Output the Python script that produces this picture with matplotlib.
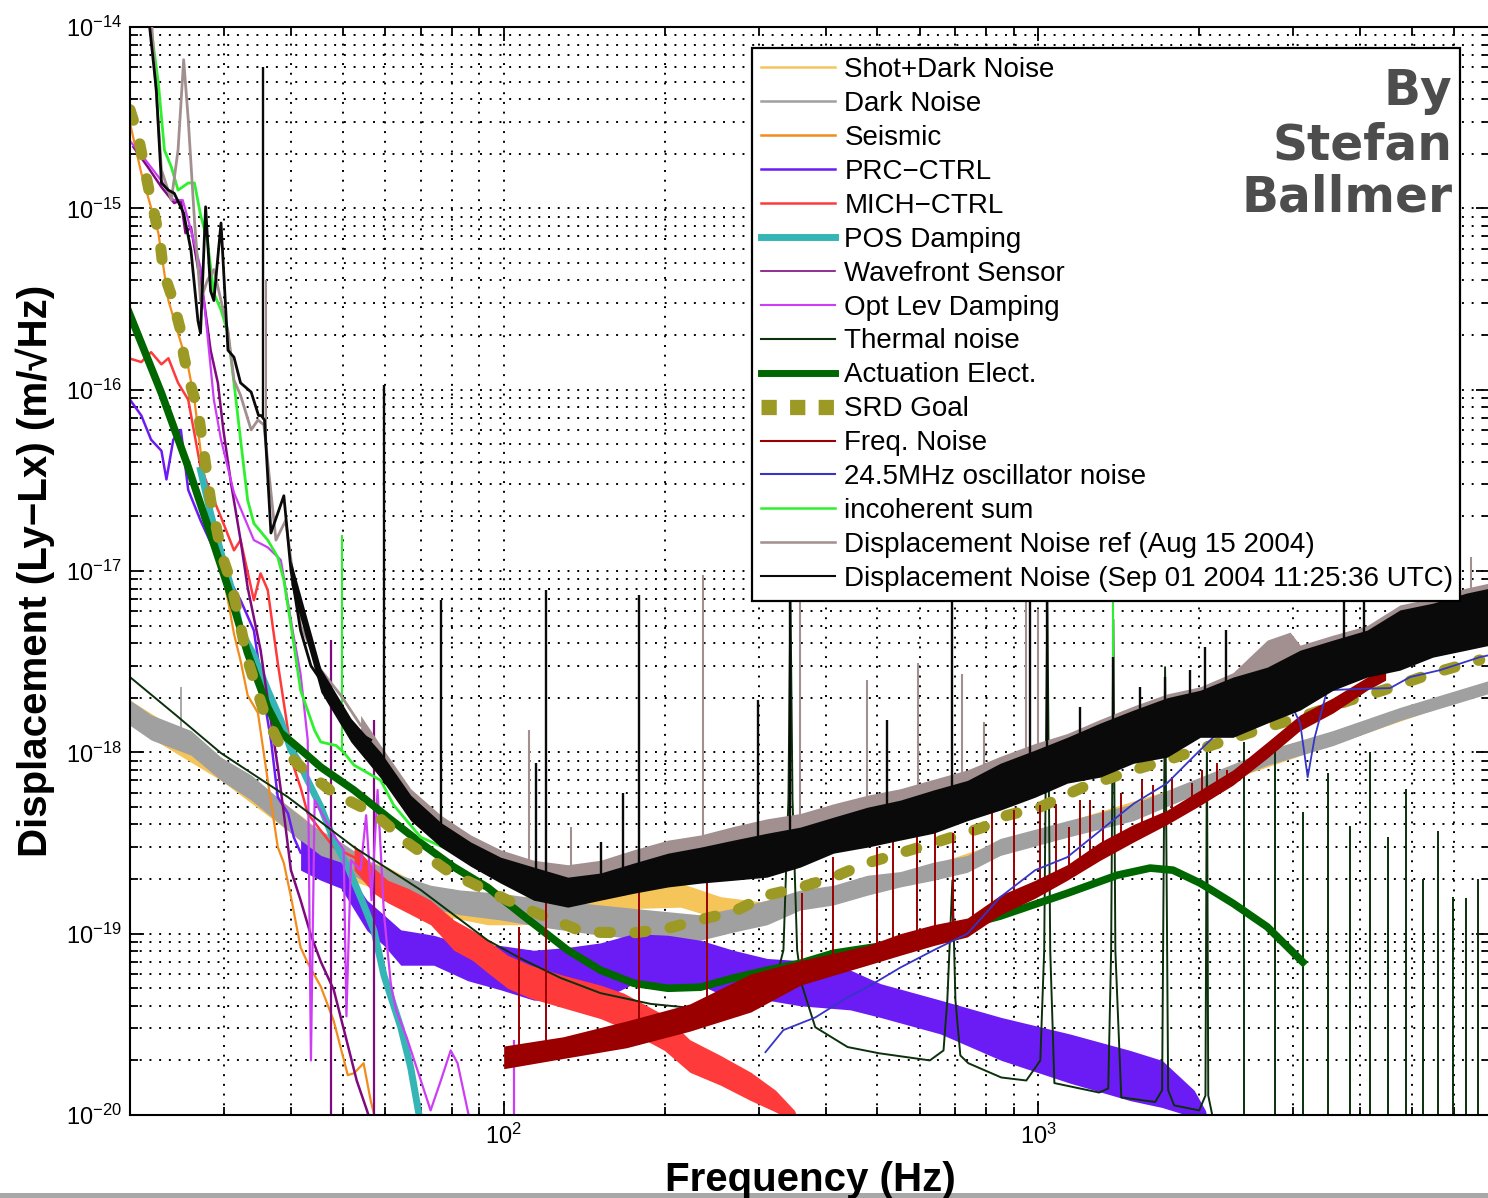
#!/usr/bin/env python3
import numpy as np
import matplotlib
matplotlib.use("Agg")
import matplotlib.pyplot as plt
from matplotlib.lines import Line2D
from matplotlib.patches import Rectangle
from matplotlib.ticker import NullFormatter

plt.rcParams['font.family'] = ['Liberation Sans', 'DejaVu Sans']
plt.rcParams['mathtext.fontset'] = 'custom'
plt.rcParams['mathtext.rm'] = 'Liberation Sans'
plt.rcParams['mathtext.it'] = 'Liberation Sans:italic'
plt.rcParams['mathtext.bf'] = 'Liberation Sans:bold'
plt.rcParams['axes.linewidth'] = 1.5

# ---- data (frequency in Hz, displacement in m/rtHz) ----
labels = ["Shot+Dark Noise", "Dark Noise", "Seismic", "PRC\u2212CTRL", "MICH\u2212CTRL",
          "POS Damping", "Wavefront Sensor", "Opt Lev Damping", "Thermal noise",
          "Actuation Elect.", "SRD Goal", "Freq. Noise", "24.5MHz oscillator noise",
          "incoherent sum", "Displacement Noise ref (Aug 15 2004)",
          "Displacement Noise (Sep 01 2004 11:25:36 UTC)"]

shot_f = [20.0, 29.6, 41.7, 51.8, 60.7, 70.0, 80.7, 93.3, 107.6, 127.8, 151.8, 180.3, 214.2, 254.5, 302.3, 359, 552, 849, 2009, 6998]
shot_hi = [1.94e-18, 9.4e-19, 4.5e-19, 2.7e-19, 2.33e-19, 1.85e-19, 1.67e-19, 1.6e-19, 1.6e-19, 1.67e-19, 1.78e-19, 1.9e-19, 1.9e-19, 1.6e-19, 1.5e-19, 1.7e-19, 2.1e-19, 3.2e-19, 7.0e-19, 2.4e-18]
shot_lo = [1.41e-18, 7.0e-19, 3.28e-19, 1.97e-19, 1.67e-19, 1.35e-19, 1.22e-19, 1.12e-19, 1.12e-19, 1.16e-19, 1.27e-19, 1.38e-19, 1.4e-19, 1.2e-19, 1.15e-19, 1.4e-19, 1.85e-19, 2.8e-19, 6.2e-19, 2.2e-18]

dark_f = [20.0, 21.9, 26.0, 29.6, 33.7, 38.3, 43.6, 49.6, 56.4, 64.2, 73.0, 83.1, 98.7, 122.4, 151.8, 188.3, 233.5, 269, 311, 359, 414, 479, 552, 637, 737, 849, 1133, 1507, 2009, 2682, 3561, 4751, 6998]
dark_hi = [1.94e-18, 1.61e-18, 1.32e-18, 9.4e-19, 7.5e-19, 5.45e-19, 4.0e-19, 3.2e-19, 2.48e-19, 2.1e-19, 1.85e-19, 1.74e-19, 1.67e-19, 1.53e-19, 1.44e-19, 1.35e-19, 1.27e-19, 1.38e-19, 1.53e-19, 1.74e-19, 1.85e-19, 2.1e-19, 2.2e-19, 2.48e-19, 2.7e-19, 3.35e-19, 4.2e-19, 5.2e-19, 7.3e-19, 1.03e-18, 1.32e-18, 1.77e-18, 2.5e-18]
dark_lo = [1.41e-18, 1.17e-18, 9.65e-19, 7.0e-19, 5.45e-19, 4.0e-19, 2.9e-19, 2.3e-19, 1.85e-19, 1.57e-19, 1.38e-19, 1.27e-19, 1.19e-19, 1.07e-19, 9.8e-20, 9.2e-20, 9.2e-20, 1.02e-19, 1.12e-19, 1.35e-19, 1.44e-19, 1.63e-19, 1.81e-19, 1.97e-19, 2.18e-19, 2.7e-19, 3.4e-19, 4.2e-19, 6.0e-19, 8.5e-19, 1.09e-18, 1.5e-18, 2.12e-18]
dark_sp_f = [24.9]
dark_sp_v = [2.29e-18]

seis_f = [20.0, 21.0, 22.6, 23.6, 24.6, 25.7, 26.4, 27.1, 28.7, 30.5, 31.3, 32.2, 33.2, 34.7, 36.2, 37.8, 38.8, 40.0, 41.7, 43.0, 45.5, 48.1, 51.1, 52.5, 54.7, 56.4, 57.9]
seis_v = [2.95e-15, 1.56e-15, 7.3e-16, 3.1e-16, 2.05e-16, 1.33e-16, 8.8e-17, 4.6e-17, 1.62e-17, 6.9e-18, 4.5e-18, 3.2e-18, 2.06e-18, 1.65e-18, 7.0e-19, 3.0e-19, 2.45e-19, 1.6e-19, 8.4e-20, 6.9e-20, 5.1e-20, 3.3e-20, 1.66e-20, 1.7e-20, 1.93e-20, 1.2e-20, 8.8e-21]

prc_f = [20.0, 21.0, 21.9, 22.9, 23.4, 24.1, 24.9, 25.7, 27.1, 29.6, 32.2, 34.1, 35.6, 36.7, 37.8, 39.5, 40.5, 41.7]
prc_v = [8.8e-17, 7.2e-17, 5.3e-17, 4.6e-17, 3.2e-17, 5.3e-17, 6.0e-17, 2.8e-17, 1.9e-17, 1.08e-17, 6.9e-18, 4.7e-18, 2.0e-18, 1.17e-18, 5.66e-19, 4.6e-19, 3.4e-19, 2.8e-19]
prcb_f = [41.7, 45.5, 49.6, 55.5, 59.7, 64.2, 74.0, 85.7, 98.7, 113.8, 131.8, 151.8, 175, 203, 233.5, 269, 311, 359, 445, 507, 656, 853, 1145, 1486, 1705, 1957, 2055, 2097]
prcb_hi = [3.28e-19, 2.7e-19, 2.48e-19, 1.53e-19, 1.27e-19, 1.05e-19, 9.8e-20, 8.6e-20, 8.6e-20, 8.1e-20, 8.4e-20, 8.9e-20, 1.0e-19, 9.8e-20, 9.2e-20, 8.1e-20, 7.3e-20, 7.1e-20, 6.3e-20, 5.3e-20, 4.3e-20, 3.45e-20, 2.8e-20, 2.27e-20, 2.0e-20, 1.37e-20, 1.06e-20, 8.2e-21]
prcb_lo = [2.24e-19, 1.97e-19, 1.78e-19, 1.04e-19, 8.6e-20, 6.7e-20, 6.7e-20, 5.5e-20, 4.9e-20, 4.3e-20, 4.3e-20, 4.3e-20, 5.3e-20, 5.2e-20, 5.2e-20, 4.3e-20, 4.3e-20, 4.0e-20, 3.8e-20, 3.45e-20, 2.8e-20, 2.0e-20, 1.5e-20, 1.2e-20, 1.1e-20, 9.7e-21, 9.4e-21, 8.2e-21]

mich_f = [19.9, 21.0, 21.9, 22.9, 23.6, 24.6, 25.7, 27.1, 28.7, 29.6, 31.3, 32.2, 34.1, 35.1, 36.2, 37.8, 39.5, 40.5, 41.7, 43.0, 45.5, 48.1, 52.5]
mich_v = [1.49e-16, 1.42e-16, 1.61e-16, 1.38e-16, 1.49e-16, 1.09e-16, 8.8e-17, 3.74e-17, 2.46e-17, 1.98e-17, 1.3e-17, 1.48e-17, 6.9e-18, 9.7e-18, 7.85e-18, 3.1e-18, 1.32e-18, 8.3e-19, 6.4e-19, 4.6e-19, 3.7e-19, 3.0e-19, 2.64e-19]
michb_f = [52.5, 57.2, 60.7, 66.2, 73.0, 80.7, 87.6, 93.3, 101.7, 112.3, 129.2, 151.8, 167.7, 199.9, 223, 254.5, 290, 322.5, 350, 359]
michb_hi = [3.1e-19, 2.3e-19, 1.97e-19, 1.78e-19, 1.53e-19, 1.19e-19, 1.04e-19, 9.2e-20, 7.6e-20, 6.7e-20, 5.9e-20, 5.2e-20, 4.7e-20, 3.55e-20, 2.6e-20, 2.13e-20, 1.72e-20, 1.37e-20, 1.06e-20, 8.8e-21]
michb_lo = [2.24e-19, 1.67e-19, 1.48e-19, 1.3e-19, 1.12e-19, 8.1e-20, 7.1e-20, 6.1e-20, 5.0e-20, 4.4e-20, 3.9e-20, 3.4e-20, 3.0e-20, 2.27e-20, 1.72e-20, 1.46e-20, 1.2e-20, 1.04e-20, 9.1e-21, 8.8e-21]

pos_f = [27.1, 28.3, 29.6, 31.3, 32.2, 34.1, 36.2, 38.3, 40.0, 41.2, 43.0, 45.5, 48.1, 51.1, 54.0, 57.2, 59.7, 64.2, 67.0, 70.0]
pos_v = [3.6e-17, 2.08e-17, 1.26e-17, 7.2e-18, 4.7e-18, 3.44e-18, 2.2e-18, 1.5e-18, 1.03e-18, 9.1e-19, 7.0e-19, 5.0e-19, 3.28e-19, 2.33e-19, 1.59e-19, 1.04e-19, 5.9e-20, 3.05e-20, 1.83e-20, 8.8e-21]

wfs_f = [20.3, 21.6, 22.9, 24.2, 24.9, 25.4, 26.0, 26.8, 27.5, 28.3, 29.2, 29.9, 30.9, 32.2, 33.2, 35.1, 36.2, 37.8, 38.8, 40.0, 41.7, 43.6, 45.5, 48.1, 51.1, 53.1, 55.5, 56.6]
wfs_v = [2.18e-15, 1.69e-15, 1.31e-15, 1.07e-15, 1.11e-15, 7.3e-16, 7.9e-16, 4.7e-16, 3.1e-16, 1.65e-16, 1.09e-16, 6.0e-17, 3.05e-17, 1.48e-17, 8.1e-18, 3.66e-18, 1.94e-18, 8.3e-19, 4.6e-19, 2.24e-19, 1.53e-19, 9.8e-20, 7.0e-20, 4.9e-20, 2.43e-20, 1.55e-20, 1.06e-20, 8.8e-21]
wfs_sp_f = [47.5, 57.2]
wfs_sp_v = [4.16e-18, 1.5e-18]

olev_f = [20.0, 21.4, 22.9, 24.1, 25.1, 26.0, 27.1, 27.9, 28.7, 29.6, 31.3, 34.1, 36.2, 38.3, 40.4, 41.7, 43.0, 43.6, 44.3, 45.5, 48.1, 50.2, 50.8, 51.8, 54.0, 55.3, 56.6, 58.1, 59.7, 61.5, 62.9, 65.8, 70.0, 73.0, 76.3, 79.6, 82.0, 86.8]
olev_v = [2.35e-15, 1.84e-15, 1.42e-15, 1.11e-15, 1.11e-15, 7.6e-16, 4.7e-16, 2.05e-16, 8.8e-17, 5.3e-17, 2.7e-17, 1.48e-17, 1.35e-17, 1.15e-17, 4.5e-18, 2.7e-18, 1.17e-18, 2.0e-20, 5.45e-19, 4.7e-19, 3.5e-19, 2.9e-19, 3.5e-20, 2.54e-19, 2.24e-19, 4.5e-19, 1.53e-19, 6.2e-19, 1.3e-19, 5.3e-20, 3.8e-20, 2.7e-20, 1.55e-20, 1.06e-20, 1.55e-20, 2.27e-20, 1.93e-20, 8.8e-21]
olev_sp_f = [104.4]
olev_sp_v = [2.6e-20]

therm_f = [20.0, 24.4, 29.6, 39.5, 52.5, 70.0, 93.3, 107.6, 127.8, 151.8, 188.3, 223, 254.5, 274.5, 290, 308.8, 322.5, 333.7, 341, 343.9, 347, 354, 361.4, 382.7, 440, 504, 627, 665, 676, 691, 700, 715, 740, 853, 950, 1009, 1026, 1040, 1053, 1072, 1300, 1352, 1369, 1382, 1394, 1430, 1655, 1705, 1727, 1750, 1796, 2000, 2055, 2068, 2080, 2135]
therm_v = [2.6e-18, 1.6e-18, 9.9e-19, 5.66e-19, 3.0e-19, 1.74e-19, 9.2e-20, 7.3e-20, 5.7e-20, 4.7e-20, 4.1e-20, 3.9e-20, 3.6e-20, 3.55e-20, 3.8e-20, 4.3e-20, 5.5e-20, 8.1e-20, 5.5e-19, 7.4e-18, 5.5e-19, 8.1e-20, 5.2e-20, 3.05e-20, 2.37e-20, 2.19e-20, 2.0e-20, 2.27e-20, 4.3e-20, 1.97e-19, 4.3e-20, 2.13e-20, 1.93e-20, 1.61e-20, 1.55e-20, 2.0e-20, 8.1e-20, 6.9e-18, 8.1e-20, 1.5e-20, 1.33e-20, 1.4e-20, 8.1e-20, 5.4e-18, 8.1e-20, 1.25e-20, 1.18e-20, 1.37e-20, 2.95e-18, 1.37e-20, 1.13e-20, 1.06e-20, 1.28e-20, 1.14e-18, 1.28e-20, 8.8e-21]
# violin-mode harmonics rising out of the floor
therm_sp_f = [2430, 2774, 3130, 3485, 3831, 4176, 4512, 4876, 5245, 5596, 5968, 6313, 6646]
therm_sp_v = [1.14e-18, 1.03e-18, 4.7e-19, 7.7e-19, 3.9e-19, 1.0e-18, 3.4e-19, 6.3e-19, 2.0e-19, 3.7e-19, 1.6e-19, 1.58e-19, 2.0e-19]

act_f = [19.9, 22.9, 25.7, 28.0, 30.5, 33.2, 36.2, 38.3, 41.8, 45.5, 52.5, 60.7, 70.0, 80.7, 93.3, 107.6, 131.8, 151.8, 175, 203, 233.5, 269, 311, 359, 414, 552, 849, 1133, 1405, 1619, 1787, 2009, 2314, 2682, 3126]
act_v = [2.68e-16, 9.57e-17, 3.74e-17, 1.75e-17, 8.15e-18, 3.52e-18, 1.77e-18, 1.28e-18, 1.03e-18, 8.28e-19, 6.18e-19, 4.39e-19, 3.16e-19, 2.33e-19, 1.80e-19, 1.29e-19, 8.10e-20, 6.29e-20, 5.33e-20, 5.00e-20, 5.07e-20, 5.69e-20, 6.29e-20, 6.87e-20, 7.80e-20, 8.87e-20, 1.25e-19, 1.67e-19, 2.10e-19, 2.30e-19, 2.24e-19, 1.90e-19, 1.47e-19, 1.09e-19, 6.97e-20]

srd_f = [20.0, 20.7, 21.2, 21.7, 22.3, 22.8, 23.1, 24.0, 24.8, 25.2, 25.8, 26.8, 28.3, 29.8, 30.9, 31.8, 33.2, 35.6, 38.3, 41.8, 48.1, 57.2, 66.2, 79.6, 101.7, 113.8, 141, 175, 203, 224, 269, 311, 359, 414, 479, 552, 637, 789, 849, 1009, 1214, 1507, 1742, 2161, 2682, 3090, 3833, 4418, 5474, 6698]
srd_v = [3.5e-15, 2.54e-15, 1.78e-15, 1.26e-15, 8.84e-16, 6.28e-16, 4.45e-16, 3.2e-16, 2.19e-16, 1.55e-16, 1.13e-16, 7.71e-17, 2.46e-17, 1.19e-17, 8.69e-18, 5.86e-18, 3.23e-18, 1.67e-18, 1.07e-18, 8.28e-19, 5.95e-19, 4.62e-19, 3.16e-19, 2.16e-19, 1.53e-19, 1.32e-19, 1.02e-19, 1.01e-19, 1.07e-19, 1.16e-19, 1.32e-19, 1.63e-19, 1.80e-19, 2.05e-19, 2.45e-19, 2.78e-19, 3.16e-19, 3.86e-19, 4.39e-19, 4.99e-19, 6.43e-19, 7.98e-19, 9.06e-19, 1.12e-18, 1.38e-18, 1.56e-18, 1.94e-18, 2.20e-18, 2.73e-18, 3.23e-18]

freq_f = [100, 129.2, 169.8, 223, 290, 359, 414, 479, 552, 637, 737, 849, 987, 1133, 1306, 1507, 1742, 2009, 2314, 2682, 3090, 3561, 4123, 4465]
freq_hi = [2.4e-20, 2.7e-20, 3.3e-20, 4.1e-20, 6.0e-20, 7.1e-20, 7.8e-20, 8.6e-20, 1.0e-19, 1.12e-19, 1.22e-19, 1.63e-19, 1.97e-19, 2.4e-19, 3.2e-19, 4.0e-19, 4.8e-19, 6.2e-19, 8.0e-19, 1.14e-18, 1.61e-18, 2.0e-18, 2.6e-18, 2.9e-18]
freq_lo = [1.8e-20, 2.05e-20, 2.35e-20, 2.9e-20, 3.7e-20, 5.2e-20, 5.9e-20, 6.7e-20, 7.6e-20, 8.6e-20, 9.6e-20, 1.27e-19, 1.57e-19, 1.97e-19, 2.54e-19, 3.2e-19, 4.0e-19, 5.1e-19, 6.6e-19, 9.3e-19, 1.32e-18, 1.65e-18, 2.2e-18, 2.5e-18]
freq_sp_f = [106.7, 119.8, 178.8, 240.6, 361, 414, 500, 535, 594, 642, 694, 755, 820, 900, 1009, 1078, 1143, 1198, 1251, 1319, 1430, 1566, 1636, 1781, 1941, 2029, 2161, 2259]
freq_sp_v = [1.09e-19, 1.97e-19, 2.16e-19, 2.16e-19, 1.67e-19, 2.64e-19, 3.0e-19, 4.07e-19, 3.87e-19, 4.07e-19, 3.58e-19, 3.87e-19, 4.6e-19, 4.8e-19, 5.1e-19, 5.2e-19, 3.87e-19, 5.45e-19, 5.45e-19, 4.8e-19, 5.96e-19, 7.0e-19, 6.6e-19, 7.3e-19, 6.76e-19, 8.0e-19, 8.7e-19, 8.0e-19]

osc_f = [308.8, 333.7, 382.7, 440, 479, 552, 637, 737, 849, 987, 1133, 1306, 1507, 1742, 2009, 2125, 2386, 2715, 2990, 3090, 3192, 3290, 3470, 4000, 4551, 4960, 5644, 6704, 6998]
osc_v = [2.22e-20, 2.94e-20, 3.45e-20, 4.46e-20, 5.07e-20, 6.5e-20, 8.1e-20, 1.0e-19, 1.59e-19, 2.24e-19, 2.64e-19, 3.7e-19, 5.2e-19, 6.76e-19, 1.03e-18, 1.21e-18, 1.41e-18, 1.65e-18, 1.77e-18, 1.45e-18, 7.3e-19, 1.21e-18, 2.2e-18, 2.24e-18, 2.26e-18, 2.6e-18, 2.84e-18, 3.35e-18, 3.44e-18]

inc_f = [21.8, 22.6, 23.2, 23.9, 24.6, 25.7, 26.4, 27.1, 27.9, 28.7, 29.6, 30.5, 31.3, 32.2, 33.2, 34.1, 36.2, 37.8, 38.8, 40.4, 41.7, 44.3, 45.5, 48.6, 50.2, 52.5, 58.9, 62.3, 70.0, 80.7, 93.3, 107.6, 122.4, 151.8, 188.3, 233.5, 289.5, 359, 552, 849, 1306, 2009, 2959, 3090, 4751, 6998]
inc_v = [1.09e-14, 4.9e-15, 2.09e-15, 1.69e-15, 1.26e-15, 1.38e-15, 1.38e-15, 9.2e-16, 6.7e-16, 3.4e-16, 2.75e-16, 2.05e-16, 1.09e-16, 5.3e-17, 2.46e-17, 1.83e-17, 1.48e-17, 1.19e-17, 8.9e-18, 4.16e-18, 2.2e-18, 1.32e-18, 1.14e-18, 1.09e-18, 1.0e-18, 8.5e-19, 7.0e-19, 5.1e-19, 3.4e-19, 2.82e-19, 2.54e-19, 2.3e-19, 1.97e-19, 1.85e-19, 2.1e-19, 2.4e-19, 2.9e-19, 3.28e-19, 4.5e-19, 6.2e-19, 9.6e-19, 1.61e-18, 3.44e-18, 2.84e-18, 4.16e-18, 5.7e-18]
inc_sp_f = [49.8, 1382]
inc_sp_v = [1.58e-17, 7.4e-18]

ref_f = [21.9, 22.9, 23.9, 24.6, 25.2, 25.7, 26.4, 27.1, 27.9, 28.7, 29.6, 30.5, 31.3, 32.2, 33.7, 34.7, 35.6, 37.5, 39.1, 40.0, 41.7, 45.5, 49.6, 54.0]
ref_v = [1.17e-14, 1.63e-15, 1.11e-15, 2.1e-15, 6.6e-15, 3.1e-15, 8.6e-16, 3.1e-16, 4.0e-16, 4.6e-16, 3.1e-16, 2.1e-16, 1.13e-16, 9.3e-17, 6.0e-17, 6.8e-17, 6.4e-17, 1.48e-17, 1.9e-17, 1.15e-17, 5.0e-18, 2.84e-18, 2.06e-18, 1.41e-18]
refb_f = [54.0, 58.9, 67.0, 76.3, 86.8, 98.7, 113.8, 131.8, 151.8, 175, 203, 233.5, 269, 311, 359, 414, 479, 552, 637, 737, 849, 987, 1133, 1306, 1507, 1742, 2009, 2314, 2682, 2959, 3090, 3561, 4123, 4751, 5475, 6320, 6998]
refb_hi = [1.6e-18, 1.09e-18, 6.3e-19, 4.5e-19, 3.5e-19, 2.9e-19, 2.54e-19, 2.4e-19, 2.54e-19, 2.9e-19, 3.28e-19, 3.5e-19, 3.9e-19, 4.3e-19, 4.6e-19, 5.2e-19, 5.8e-19, 6.3e-19, 7.1e-19, 8.0e-19, 9.5e-19, 1.12e-18, 1.27e-18, 1.52e-18, 1.8e-18, 2.1e-18, 2.3e-18, 2.75e-18, 4.16e-18, 4.6e-18, 3.9e-18, 4.43e-18, 5.0e-18, 6.5e-18, 7.1e-18, 8.05e-18, 8.6e-18]
refb_lo = [1.2e-18, 8.0e-19, 4.7e-19, 3.28e-19, 2.6e-19, 2.1e-19, 1.74e-19, 1.63e-19, 1.74e-19, 1.97e-19, 2.1e-19, 2.4e-19, 2.9e-19, 3.1e-19, 3.28e-19, 3.5e-19, 3.7e-19, 4.2e-19, 4.5e-19, 5.1e-19, 5.8e-19, 6.6e-19, 7.5e-19, 8.5e-19, 1.03e-18, 1.17e-18, 1.41e-18, 1.61e-18, 2.2e-18, 2.5e-18, 2.06e-18, 2.34e-18, 2.84e-18, 3.2e-18, 3.66e-18, 4.16e-18, 4.43e-18]
ref_sp_f = [35.9, 111.3, 133.4, 235.5, 359, 479, 596, 721, 792, 949, 1000, 6447]
ref_sp_v = [4.0e-16, 1.32e-18, 3.87e-19, 9.5e-18, 1.15e-17, 2.5e-18, 3.1e-18, 2.7e-18, 1.47e-18, 1.15e-17, 6.1e-18, 1.19e-17]

blk_f = [21.6, 22.4, 22.9, 23.6, 24.2, 25.2, 26.0, 26.8, 27.1, 27.7, 28.3, 28.7, 29.6, 30.5, 31.3, 32.2, 33.7, 34.8, 35.2, 35.7, 36.7, 38.8, 40.0, 41.7, 43.6, 45.5, 49.0, 52.5, 56.4]
blk_v = [1.24e-14, 4.5e-15, 1.38e-15, 1.26e-15, 1.21e-15, 9.4e-16, 5.9e-16, 2.4e-16, 2.05e-16, 1.02e-15, 3.5e-16, 3.1e-16, 8.3e-16, 1.65e-16, 1.51e-16, 1.09e-16, 9.7e-17, 7.2e-17, 7.2e-17, 6.8e-17, 1.62e-17, 2.6e-17, 1.01e-17, 4.7e-18, 3.0e-18, 2.5e-18, 1.77e-18, 1.32e-18, 1.17e-18]
blkb_f = [40.0, 45.5, 51.8, 58.9, 67.0, 76.3, 86.8, 98.7, 113.8, 131.8, 151.8, 175, 203, 233.5, 269, 311, 359, 414, 479, 552, 637, 737, 849, 987, 1133, 1306, 1507, 1742, 2009, 2314, 2682, 3090, 3561, 4123, 4751, 5475, 6320, 6998]
blkb_hi = [1.15e-17, 2.9e-18, 1.54e-18, 1.0e-18, 5.8e-19, 4.1e-19, 3.2e-19, 2.64e-19, 2.33e-19, 2.05e-19, 2.16e-19, 2.45e-19, 2.78e-19, 3.0e-19, 3.28e-19, 3.58e-19, 3.87e-19, 4.39e-19, 4.98e-19, 5.45e-19, 6.2e-19, 7.0e-19, 8.7e-19, 1.03e-18, 1.21e-18, 1.45e-18, 1.71e-18, 2.0e-18, 2.2e-18, 2.6e-18, 2.95e-18, 3.66e-18, 4.16e-18, 4.72e-18, 6.1e-18, 6.65e-18, 7.55e-18, 8.05e-18]
blkb_lo = [8.4e-18, 2.15e-18, 1.14e-18, 7.2e-19, 4.2e-19, 3.0e-19, 2.35e-19, 1.9e-19, 1.53e-19, 1.4e-19, 1.53e-19, 1.67e-19, 1.81e-19, 1.9e-19, 1.97e-19, 2.05e-19, 2.33e-19, 2.78e-19, 3.0e-19, 3.28e-19, 3.58e-19, 4.2e-19, 4.8e-19, 5.66e-19, 6.76e-19, 7.3e-19, 8.7e-19, 9.4e-19, 1.21e-18, 1.21e-18, 1.45e-18, 1.71e-18, 2.2e-18, 2.6e-18, 2.84e-18, 3.35e-18, 3.66e-18, 3.9e-18]
blk_sp_f = [35.4, 59.7, 76.3, 114.8, 119.8, 151.8, 166.9, 178.8, 299.7, 343.9, 522, 691, 966, 1040, 1198, 1382, 1552, 1727, 1924, 2055, 2245, 3735, 4069]
blk_sp_v = [6.0e-15, 1.06e-16, 6.9e-18, 8.7e-19, 7.85e-18, 3.2e-19, 6.0e-19, 7.4e-18, 1.94e-18, 1.15e-17, 1.5e-18, 1.15e-17, 1.15e-17, 1.15e-17, 1.77e-18, 3.35e-18, 2.29e-18, 2.6e-18, 2.84e-18, 3.8e-18, 4.7e-18, 1.15e-17, 1.15e-17]

colors = {
    'shot': '#f5c55a', 'dark': '#a0a0a0', 'seis': '#f28c1c', 'prc': '#6b1cf5',
    'mich': '#ff3a3a', 'pos': '#35b5b5', 'wfs': '#7f0a7f', 'olev': '#cc3df5',
    'therm': '#0b300b', 'act': '#006600', 'srd': '#9c9a25', 'freq': '#9a0000',
    'osc': '#3535c8', 'inc': '#2ef02e', 'ref': '#a28f8f', 'blk': '#0a0a0a',
}


def loginterp(f, xs, ys):
    return 10 ** np.interp(np.log10(f), np.log10(xs), np.log10(ys))


def joined(line_f, line_v, band_f, band_lo):
    # low-frequency trace followed by the lower edge of the band
    keep = [i for i, f in enumerate(line_f) if f < band_f[0]]
    return [line_f[i] for i in keep] + list(band_f), [line_v[i] for i in keep] + list(band_lo)


def band(ax, f, lo, hi, c, z):
    ax.fill_between(f, lo, hi, color=c, lw=0, zorder=z)


fig = plt.figure(figsize=(14.88, 11.98), dpi=100)
ax = fig.add_axes([130 / 1488, 83 / 1198, 1360 / 1488, 1088 / 1198])
ax.set_xscale('log')
ax.set_yscale('log')

# 1 shot + dark
band(ax, shot_f, shot_lo, shot_hi, colors['shot'], 2.0)
# 2 dark noise
band(ax, dark_f, dark_lo, dark_hi, colors['dark'], 2.05)
ax.vlines(dark_sp_f, loginterp(dark_sp_f, dark_f, dark_lo), dark_sp_v, color=colors['dark'], lw=1.3, zorder=2.05)
# 3 seismic
ax.plot(seis_f, seis_v, color=colors['seis'], lw=1.6, zorder=2.1)
# 4 PRC
ax.plot(prc_f, prc_v, color=colors['prc'], lw=1.8, zorder=2.15)
band(ax, prcb_f, prcb_lo, prcb_hi, colors['prc'], 2.15)
# 5 MICH
ax.plot(mich_f, mich_v, color=colors['mich'], lw=1.8, zorder=2.2)
band(ax, michb_f, michb_lo, michb_hi, colors['mich'], 2.2)
# 6 POS damping
ax.plot(pos_f, pos_v, color=colors['pos'], lw=5, zorder=2.25)
# 7 wavefront sensor
ax.plot(wfs_f, wfs_v, color=colors['wfs'], lw=1.8, zorder=2.3)
ax.vlines(wfs_sp_f, 1e-21, wfs_sp_v, color=colors['wfs'], lw=1.6, zorder=2.3)
# 8 optical lever
ax.plot(olev_f, olev_v, color=colors['olev'], lw=1.6, zorder=2.35)
ax.vlines(olev_sp_f, 1e-21, olev_sp_v, color=colors['olev'], lw=1.6, zorder=2.35)
# 9 thermal
ax.plot(therm_f, therm_v, color=colors['therm'], lw=1.4, zorder=2.4)
ax.vlines(therm_sp_f, 1e-21, therm_sp_v, color=colors['therm'], lw=1.4, zorder=2.4)
# 10 actuation electronics
ax.plot(act_f, act_v, color=colors['act'], lw=5.5, zorder=2.45)
# 11 SRD
ax.plot(srd_f, srd_v, color=colors['srd'], lw=8, linestyle=(0, (1.0, 2.2)), dash_capstyle='round', zorder=2.5)
# 12 frequency noise
band(ax, freq_f, freq_lo, freq_hi, colors['freq'], 2.55)
ax.vlines(freq_sp_f, loginterp(freq_sp_f, freq_f, freq_lo), freq_sp_v, color=colors['freq'], lw=1.4, zorder=2.55)
# 13 oscillator
ax.plot(osc_f, osc_v, color=colors['osc'], lw=1.3, zorder=2.6)
# 14 incoherent sum
ax.plot(inc_f, inc_v, color=colors['inc'], lw=2, zorder=2.65)
ax.vlines(inc_sp_f, loginterp(inc_sp_f, inc_f, inc_v), inc_sp_v, color=colors['inc'], lw=1.5, zorder=2.65)
# 15 reference displacement
ax.plot(ref_f, ref_v, color=colors['ref'], lw=2, zorder=2.7)
band(ax, refb_f, refb_lo, refb_hi, colors['ref'], 2.7)
rb_f, rb_v = joined(ref_f, ref_v, refb_f, refb_lo)
ax.vlines(ref_sp_f, loginterp(ref_sp_f, rb_f, rb_v), ref_sp_v, color=colors['ref'], lw=1.5, zorder=2.7)
# 16 current displacement
ax.plot(blk_f, blk_v, color=colors['blk'], lw=2, zorder=2.75)
band(ax, blkb_f, blkb_lo, blkb_hi, colors['blk'], 2.75)
bb_f, bb_v = joined(blk_f, blk_v, blkb_f, blkb_lo)
ax.vlines(blk_sp_f, loginterp(blk_sp_f, bb_f, bb_v), blk_sp_v, color=colors['blk'], lw=1.7, zorder=2.75)

ax.set_xlim(20, 7000)
ax.set_ylim(1e-20, 1e-14)
ax.set_xticks([100, 1000])
ax.set_yticks([1e-20, 1e-19, 1e-18, 1e-17, 1e-16, 1e-15, 1e-14])
ax.set_axisbelow(True)
ax.grid(True, which='both', color='k', linestyle=(0, (1, 4)), linewidth=1.4)
ax.tick_params(which='both', direction='in', top=True, right=True, width=1.3, labelsize=17, pad=6)
ax.tick_params(which='major', length=10)
ax.tick_params(which='minor', length=5.5)
ax.xaxis.set_minor_formatter(NullFormatter())
ax.yaxis.set_minor_formatter(NullFormatter())

handles = [
    Line2D([], [], color=colors['shot'], lw=1.8),
    Line2D([], [], color=colors['dark'], lw=1.8),
    Line2D([], [], color=colors['seis'], lw=1.8),
    Line2D([], [], color=colors['prc'], lw=1.8),
    Line2D([], [], color=colors['mich'], lw=1.8),
    Line2D([], [], color=colors['pos'], lw=5),
    Line2D([], [], color=colors['wfs'], lw=1.2),
    Line2D([], [], color=colors['olev'], lw=1.5),
    Line2D([], [], color=colors['therm'], lw=1.5),
    Line2D([], [], color=colors['act'], lw=5),
    Line2D([], [], color=colors['srd'], lw=11, linestyle=(0, (1.0, 0.87)), dash_capstyle='butt'),
    Line2D([], [], color=colors['freq'], lw=1.5),
    Line2D([], [], color=colors['osc'], lw=1.5),
    Line2D([], [], color=colors['inc'], lw=1.8),
    Line2D([], [], color=colors['ref'], lw=1.8),
    Line2D([], [], color=colors['blk'], lw=1.5),
]
leg = ax.legend(handles, labels, loc='upper left',
                bbox_to_anchor=((752 - 130) / 1360, (1115 - 594) / 1088, (1460 - 752) / 1360, (594 - 48) / 1088),
                mode='expand', borderaxespad=0, fontsize=20, handlelength=2.65, handletextpad=0.35,
                labelspacing=0.285, borderpad=0.33, fancybox=False, framealpha=1, edgecolor='k')
leg.get_frame().set_linewidth(1.6)
leg.set_zorder(10)

# axis labels (the original image is cropped through the x label)
fig.text(35 / 1488, (1198 - 571) / 1198, 'Displacement (Ly\u2212Lx) (m/\u221aHz)', rotation=90,
         ha='center', va='center', fontsize=29, fontweight='bold')
fig.text(810 / 1488, 7 / 1198, 'Frequency (Hz)', ha='center', va='baseline', fontsize=29, fontweight='bold')

for word, base_y in [('By', 105), ('Stefan', 159), ('Ballmer', 212)]:
    fig.text(1452 / 1488, (1198 - base_y) / 1198, word, ha='right', va='baseline', fontsize=35,
             fontweight='bold', color='#4d4d4d', family='DejaVu Sans', zorder=20)

fig.add_artist(Rectangle((0, 0), 1, 5 / 1198, transform=fig.transFigure, color='#a8a8a8', lw=0, zorder=1))

fig.savefig('out.png', dpi=100)
